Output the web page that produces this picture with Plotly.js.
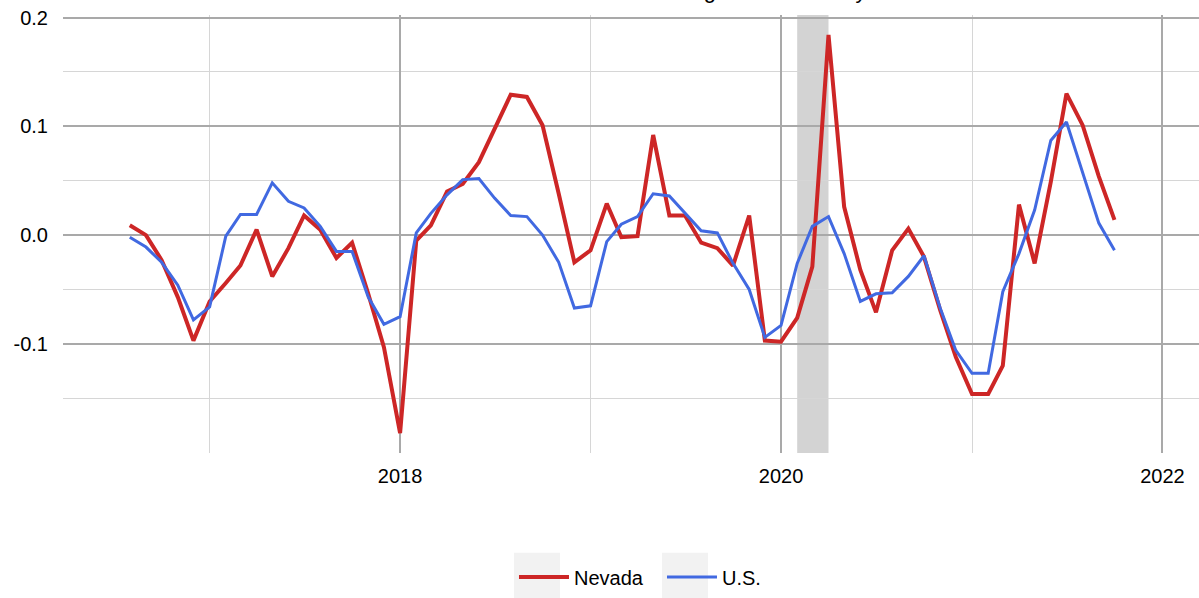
<!DOCTYPE html>
<html>
<head>
<meta charset="utf-8">
<script src="https://cdn.plot.ly/plotly-3.0.1.min.js"></script>
<style>
  html, body { margin: 0; padding: 0; background: #ffffff; }
  #chart { width: 1199px; height: 598px; }
</style>
</head>
<body>
<div id="chart"></div>
<script>
// Monthly dates (first of month)
const months = [
  '2016-08-01','2016-09-01','2016-10-01','2016-11-01','2016-12-01',
  '2017-01-01','2017-02-01','2017-03-01','2017-04-01','2017-05-01','2017-06-01',
  '2017-07-01','2017-08-01','2017-09-01','2017-10-01','2017-11-01','2017-12-01',
  '2018-01-01','2018-02-01','2018-03-01','2018-04-01','2018-05-01','2018-06-01',
  '2018-07-01','2018-08-01','2018-09-01','2018-10-01','2018-11-01','2018-12-01',
  '2019-01-01','2019-02-01','2019-03-01','2019-04-01','2019-05-01','2019-06-01',
  '2019-07-01','2019-08-01','2019-09-01','2019-10-01','2019-11-01','2019-12-01',
  '2020-01-01','2020-02-01','2020-03-01','2020-04-01','2020-05-01','2020-06-01',
  '2020-07-01','2020-08-01','2020-09-01','2020-10-01','2020-11-01','2020-12-01',
  '2021-01-01','2021-02-01','2021-03-01','2021-04-01','2021-05-01','2021-06-01',
  '2021-07-01','2021-08-01','2021-09-01','2021-10-01'
];

const nevada = [
  0.009, 0.000, -0.023, -0.057, -0.097,
  -0.061, -0.044, -0.028, 0.005, -0.038, -0.012,
  0.018, 0.005, -0.021, -0.007, -0.054, -0.103,
  -0.182, -0.005, 0.009, 0.040, 0.047, 0.067,
  0.098, 0.129, 0.127, 0.101, 0.038, -0.025,
  -0.014, 0.029, -0.002, -0.001, 0.092, 0.018,
  0.018, -0.007, -0.012, -0.028, 0.018, -0.097,
  -0.098, -0.076, -0.029, 0.184, 0.026, -0.032,
  -0.071, -0.014, 0.006, -0.020, -0.069, -0.112,
  -0.146, -0.146, -0.120, 0.028, -0.026, 0.049,
  0.130, 0.101, 0.054, 0.014
];

const us = [
  -0.002, -0.011, -0.025, -0.046, -0.078,
  -0.066, -0.001, 0.019, 0.019, 0.048, 0.031,
  0.025, 0.008, -0.015, -0.015, -0.057, -0.082,
  -0.075, 0.002, 0.020, 0.037, 0.051, 0.052,
  0.034, 0.018, 0.017, 0.000, -0.025, -0.067,
  -0.065, -0.006, 0.010, 0.017, 0.038, 0.036,
  0.020, 0.004, 0.002, -0.026, -0.050, -0.094,
  -0.083, -0.026, 0.008, 0.017, -0.017, -0.061,
  -0.054, -0.053, -0.038, -0.019, -0.067, -0.106,
  -0.127, -0.127, -0.052, -0.017, 0.023, 0.087,
  0.104, 0.057, 0.011, -0.014
];

const seriesNames = ['Nevada', 'U.S.'];
const recession = ['2020-02-01', '2020-04-01'];

const xTickVals = ['2018-01-01', '2020-01-01', '2022-01-01'];
const xTickText = ['2018', '2020', '2022'];
const yTickVals = [0.2, 0.1, 0.0, -0.1];
const yTickText = ['0.2', '0.1', '0.0', '-0.1'];

const titleText = 'Nevada and U.S. Percent Change in Net Activity';

const FONT = 'Liberation Sans, Arial, sans-serif';
const MAJOR = '#a9a9a9';
const MINOR = '#d6d6d6';

const traces = [
  {
    x: months, y: nevada, name: seriesNames[0], type: 'scatter', mode: 'lines',
    line: { color: '#cd2626', width: 4 }
  },
  {
    x: months, y: us, name: seriesNames[1], type: 'scatter', mode: 'lines',
    line: { color: '#4169e1', width: 3 }
  }
];

const layout = {
  width: 1199, height: 598,
  margin: { l: 63, r: 0, t: 15, b: 145, pad: 0 },
  paper_bgcolor: '#ffffff', plot_bgcolor: '#ffffff',
  font: { family: FONT, size: 20, color: '#000000' },
  title: {
    text: titleText,
    font: { family: FONT, size: 22, color: '#000000' },
    xref: 'paper', x: 0.5, xanchor: 'center',
    yref: 'container', y: 1, yanchor: 'bottom',
    pad: { b: 2 }
  },
  showlegend: true,
  legend: {
    orientation: 'h',
    xref: 'paper', x: 0.397, xanchor: 'left',
    yref: 'paper', y: -0.283, yanchor: 'middle',
    font: { family: FONT, size: 20, color: '#000000' },
    itemwidth: 50,
    entrywidth: 83, entrywidthmode: 'pixels',
    bgcolor: 'rgba(0,0,0,0)'
  },
  xaxis: {
    type: 'date',
    range: ['2016-03-26', '2022-03-12'],
    tickvals: xTickVals, ticktext: xTickText,
    showgrid: true, gridcolor: MAJOR, gridwidth: 2,
    minor: { dtick: 'M12', tick0: '2017-01-01', showgrid: true, gridcolor: MINOR, gridwidth: 1, ticks: '' },
    zeroline: false, showline: false, ticks: '',
    ticklabelstandoff: 9,
    tickfont: { family: FONT, size: 20, color: '#000000' }
  },
  yaxis: {
    range: [-0.2003, 0.2023],
    tickvals: yTickVals, ticktext: yTickText,
    showgrid: true, gridcolor: MAJOR, gridwidth: 2,
    minor: { tickvals: [0.15, 0.05, -0.05, -0.15], showgrid: true, gridcolor: MINOR, gridwidth: 1, ticks: '' },
    zeroline: false, showline: false, ticks: '',
    ticklabelstandoff: 14,
    tickfont: { family: FONT, size: 20, color: '#000000' }
  },
  shapes: [
    {
      type: 'rect', xref: 'x', yref: 'paper',
      x0: recession[0], x1: recession[1], y0: 0, y1: 1,
      fillcolor: '#d3d3d3', line: { width: 0 }, layer: 'between'
    },
    {
      type: 'rect', xref: 'paper', yref: 'paper',
      x0: (514 - 63) / 1136, x1: (560 - 63) / 1136, y0: -0.228, y1: -0.335,
      fillcolor: '#f2f2f2', line: { width: 0 }, layer: 'below'
    },
    {
      type: 'rect', xref: 'paper', yref: 'paper',
      x0: (662 - 63) / 1136, x1: (708 - 63) / 1136, y0: -0.228, y1: -0.335,
      fillcolor: '#f2f2f2', line: { width: 0 }, layer: 'below'
    }
  ]
};

Plotly.newPlot('chart', traces, layout, { displayModeBar: false, staticPlot: true });
</script>
</body>
</html>
